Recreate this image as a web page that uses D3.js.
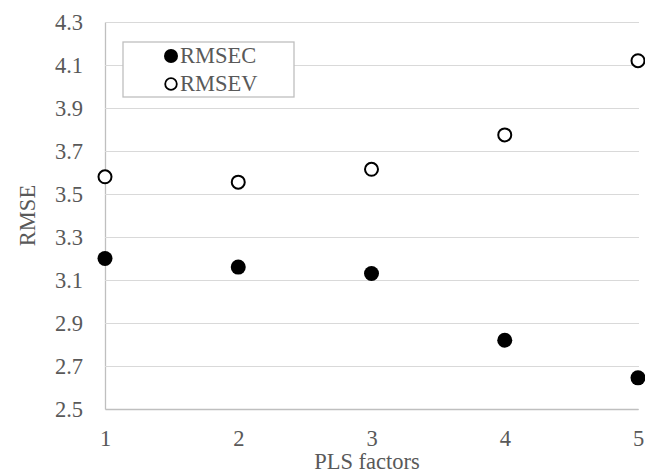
<!DOCTYPE html>
<html>
<head>
<meta charset="utf-8">
<style>
  body { margin: 0; background: #fff; }
  svg text { font-family: "Liberation Serif", "Times New Roman", serif; fill: #595959; }
</style>
<script src="https://d3js.org/d3.v7.min.js"></script>
</head>
<body>
<svg width="645" height="476"></svg>
<script>
// data
var factors = [1, 2, 3, 4, 5];
var rmsec = [3.20, 3.16, 3.13, 2.82, 2.645];
var rmsev = [3.58, 3.555, 3.615, 3.775, 4.12];
var yTicks = [2.5, 2.7, 2.9, 3.1, 3.3, 3.5, 3.7, 3.9, 4.1, 4.3];
var seriesNames = ["RMSEC", "RMSEV"];

var svg = d3.select("svg");
var plotLeft = 105, plotRight = 638, plotTop = 22, plotBottom = 409;
var fontSize = "22.5px";

var x = d3.scaleLinear().domain([1, 5]).range([plotLeft, plotRight]);
var y = d3.scaleLinear().domain([2.5, 4.3]).range([plotBottom, plotTop]);

// y axis + gridlines
var gy = svg.append("g")
    .attr("transform", "translate(" + plotLeft + ",0)")
    .call(d3.axisLeft(y).tickValues(yTicks).tickFormat(d3.format(".1f"))
      .tickSize(-(plotRight - plotLeft + 1)).tickSizeOuter(0).tickPadding(22));
gy.selectAll(".tick line").attr("stroke", "#d9d9d9").attr("stroke-width", 1.2);
gy.select(".domain").attr("stroke", "#bfbfbf").attr("stroke-width", 1.3);
gy.selectAll("text").style("font-size", fontSize).attr("fill", "#595959");

// x axis
var gx = svg.append("g")
    .attr("transform", "translate(0," + plotBottom + ")")
    .call(d3.axisBottom(x).tickValues(factors).tickFormat(d3.format("d"))
      .tickSize(0).tickPadding(21));
gx.select(".domain").attr("stroke", "#bfbfbf").attr("stroke-width", 1.3);
gx.selectAll("text").style("font-size", fontSize).attr("fill", "#595959");

// axis titles
svg.append("text")
    .attr("transform", "translate(35," + ((plotTop + plotBottom) / 2) + ") rotate(-90)")
    .attr("text-anchor", "middle")
    .style("font-size", fontSize)
    .text("RMSE");

svg.append("text")
    .attr("x", 367)
    .attr("y", 469)
    .attr("text-anchor", "middle")
    .style("font-size", fontSize)
    .text("PLS factors");

// points
svg.append("g").selectAll("circle")
    .data(factors)
    .enter().append("circle")
      .attr("cx", function(d) { return x(d); })
      .attr("cy", function(d, i) { return y(rmsec[i]); })
      .attr("r", 7.5)
      .attr("fill", "#000");

svg.append("g").selectAll("circle")
    .data(factors)
    .enter().append("circle")
      .attr("cx", function(d) { return x(d); })
      .attr("cy", function(d, i) { return y(rmsev[i]); })
      .attr("r", 6.5)
      .attr("fill", "#fff")
      .attr("stroke", "#000")
      .attr("stroke-width", 2);

// legend
var lg = svg.append("g");
lg.append("rect")
    .attr("x", 123).attr("y", 42)
    .attr("width", 171).attr("height", 55)
    .attr("fill", "#fff")
    .attr("stroke", "#bfbfbf")
    .attr("stroke-width", 1.3);

var items = lg.selectAll("g.item")
    .data(seriesNames)
    .enter().append("g")
      .attr("class", "item")
      .attr("transform", function(d, i) { return "translate(0," + (i * 28) + ")"; });

items.append("circle")
    .attr("cx", 171).attr("cy", 56)
    .attr("r", function(d, i) { return i === 0 ? 7 : 5.8; })
    .attr("fill", function(d, i) { return i === 0 ? "#000" : "#fff"; })
    .attr("stroke", function(d, i) { return i === 0 ? "none" : "#000"; })
    .attr("stroke-width", 1.8);

items.append("text")
    .attr("x", 180).attr("y", 63)
    .style("font-size", fontSize)
    .text(function(d) { return d; });
</script>
</body>
</html>
